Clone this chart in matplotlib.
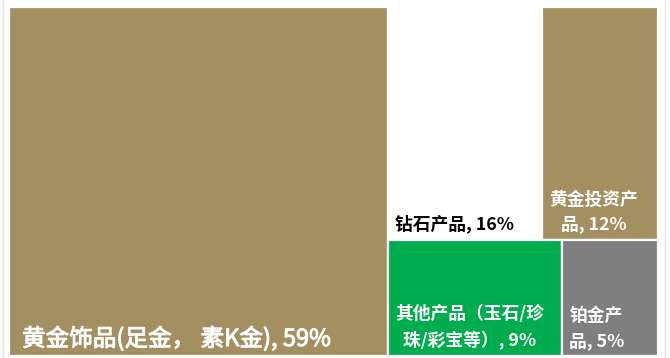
import matplotlib
matplotlib.use("Agg")
import matplotlib.pyplot as plt
import matplotlib.patheffects as pe
from matplotlib.patches import Rectangle

plt.rcParams['font.family'] = ['Noto Sans CJK SC', 'DejaVu Sans']

# product mix share (%)
labels = ["黄金饰品(足金， 素K金), 59%", "钻石产品, 16%", "黄金投资产\n品, 12%",
          "其他产品（玉石/珍\n珠/彩宝等）, 9%", "铂金产\n品, 5%"]
values = [59, 16, 12, 9, 5]
colors = ["#A48F60", "#FFFFFF", "#A48F60", "#00AD4E", "#7F7F7F"]
text_colors = ["white", "black", "white", "white", "white"]

W, H = 670, 358
fig = plt.figure(figsize=(W / 100, H / 100), dpi=100)
ax = fig.add_axes([0, 0, 1, 1])
ax.set_xlim(0, W)
ax.set_ylim(H, 0)
ax.axis("off")

# plot area (pixels)
x0, y0, w, h = 9, 7, 649, 349
total = sum(values)

# first item takes a full-height column, the rest split into two rows of two
rects = []
bw = w * values[0] / total
rects.append((x0, y0, bw, h))
rx, rw = x0 + bw, w - bw
rest = sum(values[1:])
top = values[1] + values[2]
th = h * top / rest
rects.append((rx, y0, rw * values[1] / top, th))
rects.append((rx + rw * values[1] / top, y0, rw * values[2] / top, th))
bot = values[3] + values[4]
rects.append((rx, y0 + th, rw * values[3] / bot, h - th))
rects.append((rx + rw * values[3] / bot, y0 + th, rw * values[4] / bot, h - th))

for i, (x, y, rwid, rht) in enumerate(rects):
    ax.add_patch(Rectangle((x, y), rwid, rht, facecolor=colors[i],
                           edgecolor="white", linewidth=1.6))
    big = i == 0
    t = ax.text(x + (13 if big else 7), y + rht - 10, labels[i],
                ha="left", va="baseline", multialignment="center",
                color=text_colors[i], fontsize=17 if big else 12.8,
                fontweight="normal" if big else "bold", linespacing=1.5)
    if big:
        # slightly heavier strokes for the large label
        t.set_path_effects([pe.withStroke(linewidth=0.7, foreground=text_colors[i])])

# faint frame lines at the sides
for xv in (2.5, 665):
    ax.plot([xv, xv], [0, H], color="#E4E4E4", linewidth=1)

fig.savefig("out.png", dpi=100)
